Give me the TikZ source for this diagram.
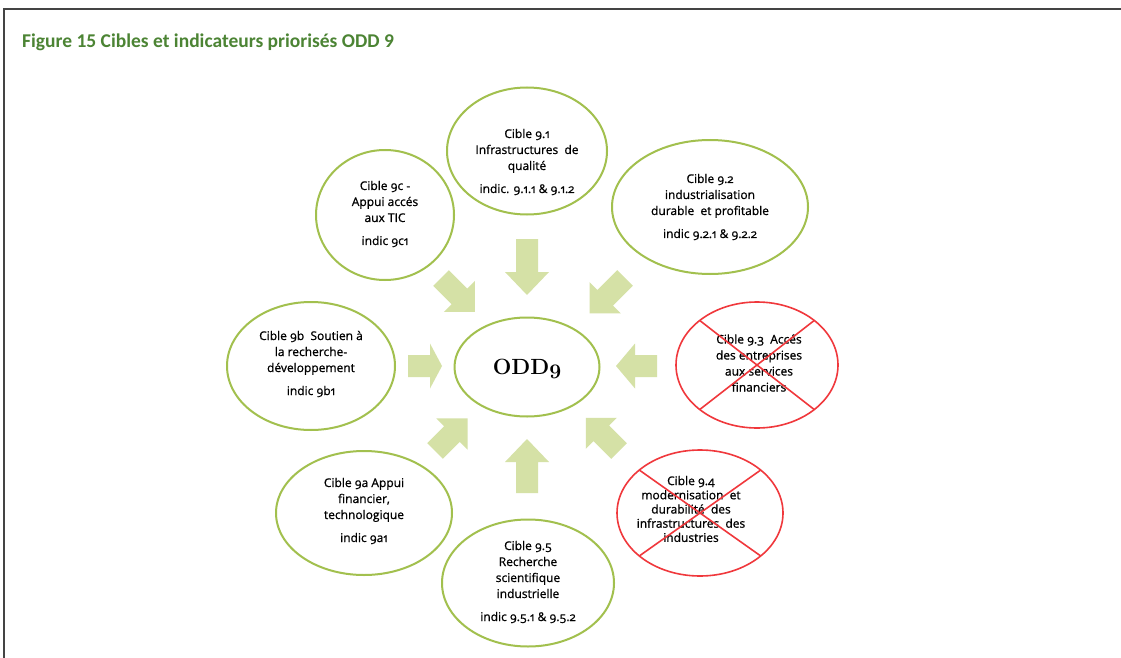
\documentclass[tikz,border=0pt]{standalone}
\usepackage{fontspec}
\setmainfont{Open Sans}[Numbers=OldStyle]
\newfontfamily\lblfont{Open Sans}[Numbers=OldStyle, FakeBold=0.9]
\newfontfamily\titlefont{Carlito}
\newfontfamily\oddfont{Latin Modern Roman}
\usetikzlibrary{shapes.geometric,calc}

\definecolor{ringgreen}{HTML}{A2C04E}
\definecolor{arrowgreen}{HTML}{D5E1A6}
\definecolor{crossred}{HTML}{F0383C}
\definecolor{titlegreen}{HTML}{4C8434}
\definecolor{framegray}{HTML}{444444}

% block arrow: tail x, tail y, angle, length, head length, head half width
\newcommand\blockarrow[6]{%
  \fill[arrowgreen, shift={(#1,#2)}, rotate=#3]
    (0,-11) -- ({#4-#5},-11) -- ({#4-#5},-#6) -- (#4,0)
    -- ({#4-#5},#6) -- ({#4-#5},11) -- (0,11) -- cycle;}

\tikzset{
  target/.style={ellipse, draw=ringgreen, line width=2pt, inner sep=0pt},
  dropped/.style={ellipse, draw=crossred, line width=1.6pt, inner sep=0pt},
  crossline/.style={draw=crossred, line width=1.6pt},
  lbl/.style={align=center, text=black, inner sep=0pt,
    font=\lblfont\fontsize{12}{16}\selectfont},
}

\begin{document}
\begin{tikzpicture}[x=1pt, y=-1pt]
\useasboundingbox (0,0) rectangle (1121,658);
\fill[white] (0,0) rectangle (1121,658);

% frame
\draw[framegray, line width=2pt] (4,658) -- (4,9) -- (1121,9);

% caption
\node[anchor=base west, inner sep=0pt, text=titlegreen,
      font=\titlefont\bfseries\fontsize{19.5}{22}\selectfont] (title) at (22,48)
  {Figure 15 Cibles et indicateurs priorisés ODD 9};

% ellipses
\node[target, minimum width=160, minimum height=127] (t91) at (527,151) {};
\node[target, minimum width=138, minimum height=130] (t9c) at (385,215) {};
\node[target, minimum width=196, minimum height=134] (t92) at (710,207) {};
\node[target, minimum width=168, minimum height=128] (t9b) at (311,366) {};
\node[target, minimum width=145, minimum height=99] (odd) at (527,367) {};
\node[dropped, minimum width=162, minimum height=126] (t93) at (757,365) {};
\node[target, minimum width=176, minimum height=124] (t9a) at (364,513) {};
\node[target, minimum width=172, minimum height=127] (t95) at (528,583) {};
\node[dropped, minimum width=166, minimum height=126] (t94) at (700,513) {};

% texts
\node[lbl] (l91) at (527,162) {Cible 9.1\\Infrastructures\ \ de\\qualité\\[7pt]indic. 9.1.1 \& 9.1.2};
\node[lbl] (l9c) at (385,214) {Cible 9c -\\Appui accés\\aux TIC\\[7pt]indic 9c1};
\node[lbl] (l92) at (710,207) {Cible 9.2\\industrialisation\\durable\ \ et profitable\\[7pt]indic 9.2.1 \& 9.2.2};
\node[lbl] (l9b) at (311,364) {Cible 9b\ \ Soutien à\\la recherche-\\développement\\[7pt]indic 9b1};
\node[inner sep=0pt, font=\oddfont\bfseries\fontsize{22}{26}\selectfont] (lodd) at (527,369)
  {ODD{\usefont{OML}{cmm}{b}{it}\fontsize{22}{26}\selectfont 9}};
\node[lbl] (l93) at (759,363) {Cible 9.3\ \ Accés\\des entreprises\\aux services\\financiers};
\node[lbl] (l9a) at (364,511) {Cible 9a Appui\\financier,\\technologique\\[7pt]indic 9a1};
\node[lbl] (l95) at (528,582) {Cible 9.5\\Recherche\\scientifique\\industrielle\\[7pt]indic 9.5.1 \& 9.5.2};
\node[lbl, font=\lblfont\fontsize{12}{14.2}\selectfont] (l94) at (691,509) {Cible 9.4\\modernisation\ \ et\\durabilité\ \ des\\infrastructures\ \ des\\industries};

% crossed-out targets
\draw[crossline] ($(t93.center)+(135:81 and 63)$) -- ($(t93.center)+(-45:81 and 63)$);
\draw[crossline] ($(t93.center)+(45:81 and 63)$) -- ($(t93.center)+(225:81 and 63)$);
\draw[crossline] ($(t94.center)+(137:83 and 63)$) -- ($(t94.center)+(-43:83 and 63)$);
\draw[crossline] ($(t94.center)+(43:83 and 63)$) -- ($(t94.center)+(223:83 and 63)$);

% arrows towards the centre
\blockarrow{527}{239}{-90}{56}{23}{22}
\blockarrow{441}{278}{-45}{48}{22}{22}
\blockarrow{625}{278}{-135}{50}{22}{22}
\blockarrow{408}{366}{0}{34}{12}{22.5}
\blockarrow{657}{366}{180}{41}{19}{22.5}
\blockarrow{435}{451}{45}{46}{22}{22}
\blockarrow{527}{493}{90}{54}{23}{22}
\blockarrow{619}{451}{135}{47}{22}{22}
\end{tikzpicture}
\end{document}
